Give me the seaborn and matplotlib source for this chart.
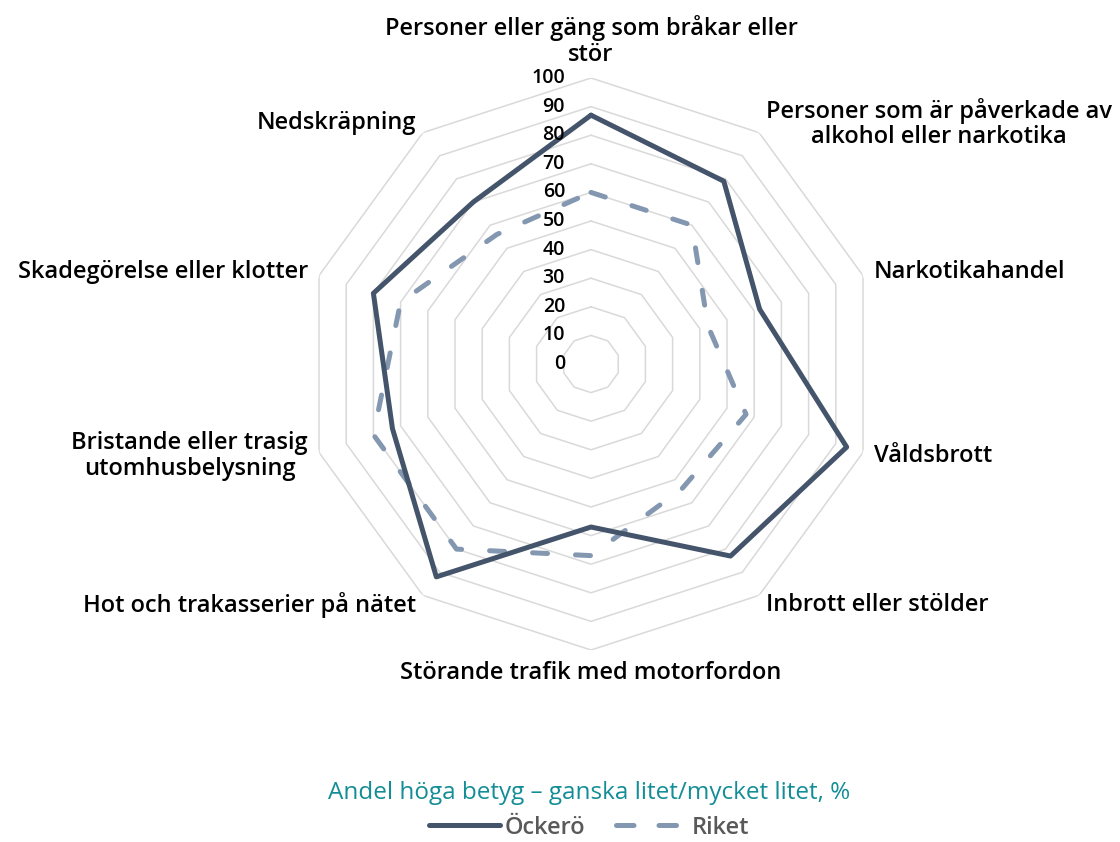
import numpy as np
import pandas as pd
import seaborn as sns
from matplotlib import pyplot as plt
from matplotlib.lines import Line2D
from matplotlib.transforms import offset_copy

categories = [
    "Personer eller gäng som bråkar eller\nstör",
    "Personer som är påverkade av\nalkohol eller narkotika",
    "Narkotikahandel",
    "Våldsbrott",
    "Inbrott eller stölder",
    "Störande trafik med motorfordon",
    "Hot och trakasserier på nätet",
    "Bristande eller trasig\nutomhusbelysning",
    "Skadegörelse eller klotter",
    "Nedskräpning",
]
ockero = [87, 79, 62, 94, 83, 57, 92, 73, 80, 70]
riket = [60, 60, 43, 57, 54, 67, 80, 80, 70, 56]
ticks = [0, 10, 20, 30, 40, 50, 60, 70, 80, 90, 100]

c_ock = "#44546a"
c_rik = "#8497b0"
c_grid = "#d9d9d9"

sns.set_style("white")
plt.rcParams['font.family'] = ['Open Sans', 'DejaVu Sans']

n = len(categories)
theta = np.arange(n) * 2 * np.pi / n
theta_c = np.append(theta, theta[0])

df = pd.DataFrame({
    "theta": np.concatenate([theta_c, theta_c]),
    "value": ockero + ockero[:1] + riket + riket[:1],
    "serie": ["Öckerö"] * (n + 1) + ["Riket"] * (n + 1),
})

fig = plt.figure(figsize=(11.2, 8.42), dpi=100)
cx, cy, R = 591 / 1120, 1 - 364 / 842, 286
ax = fig.add_axes([cx - R / 1120, cy - R / 842, 2 * R / 1120, 2 * R / 842], projection="polar")
ax.set_theta_zero_location("N")
ax.set_theta_direction(-1)
ax.set_ylim(0, 100)
ax.grid(False)
ax.spines["polar"].set_visible(False)
ax.set_xticks([])
ax.set_yticks([])

# polygon gridlines
for t in ticks:
    ax.plot(theta_c, [t] * (n + 1), color=c_grid, lw=1.1, zorder=1)

sns.lineplot(data=df[df.serie == "Öckerö"], x="theta", y="value", ax=ax, sort=False,
             estimator=None, color=c_ock, lw=3.6, zorder=4, legend=False)
sns.lineplot(data=df[df.serie == "Riket"], x="theta", y="value", ax=ax, sort=False,
             estimator=None, color=c_rik, lw=3.6, zorder=3, legend=False)
for ln in ax.lines[-1:]:
    ln.set_dashes((3, 5.6))
    ln.set_dash_capstyle("round")
ax.set_xlabel("")
ax.set_ylabel("")
ax.set_ylim(0, 100)

# radial tick labels
tr = offset_copy(ax.transData, fig=fig, x=-26, y=0, units="dots")
for t in ticks:
    ax.text(0, t, str(t), transform=tr, ha="right", va="center", fontsize=14,
            fontweight="semibold", color="black", zorder=5)

# category labels
lab_r = 104
for i, (th, lab) in enumerate(zip(theta, categories)):
    deg = np.degrees(th)
    if i == 0:
        ha, va = "center", "bottom"
    elif i == 5:
        ha, va, = "center", "top"
    elif deg < 180:
        ha, va = "left", "center"
    else:
        ha, va = "right", "center"
    ax.text(th, lab_r, lab, ha=ha, va=va, multialignment="center", fontsize=17,
            fontweight="semibold", color="black", linespacing=1.08)

handles = [
    Line2D([0], [0], color=c_ock, lw=3.6, solid_capstyle="round"),
    Line2D([0], [0], color=c_rik, lw=3.6, dashes=(3.5, 5), dash_capstyle="round"),
]
leg = fig.legend(handles, ["Öckerö", "Riket"], loc="lower center", ncol=2,
                 bbox_to_anchor=(0.526, 0.0), frameon=False, fontsize=17,
                 handlelength=3.0, handletextpad=0.2, columnspacing=1.3,
                 title="Andel höga betyg – ganska litet/mycket litet, %",
                 title_fontsize=17.5, borderaxespad=0.0, borderpad=0.1)
leg.get_title().set_color("#138d96")
leg._legend_box.sep = 8
for txt in leg.get_texts():
    txt.set_color("#595959")
    txt.set_fontweight("semibold")

plt.savefig("out.png", dpi=100)
plt.close(fig)
